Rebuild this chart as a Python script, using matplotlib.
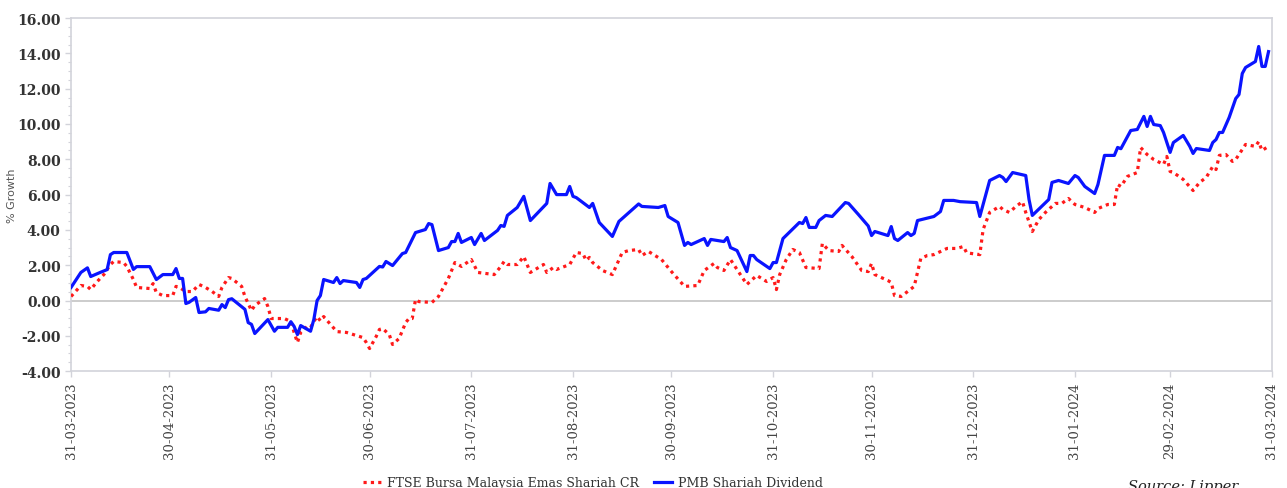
import matplotlib
matplotlib.use("Agg")
import matplotlib.pyplot as plt
import numpy as np
from matplotlib.ticker import MultipleLocator, FormatStrFormatter

# day offsets counted from 31-03-2023, % growth
start = np.datetime64("2023-03-31")

blue_days = [0, 3, 5, 6, 9, 11, 12, 13, 17, 19, 20, 24, 26, 28, 31, 32, 33, 34, 35, 36,
             38, 39, 41, 42, 45, 46, 47, 48, 49, 53, 54, 55, 56, 60, 62, 63, 66, 67, 68, 69,
             70, 73, 74, 75, 76, 77, 79, 80, 81, 82, 83, 87, 88, 89, 90, 94, 95, 96, 98, 101,
             102, 105, 108, 109, 110, 112, 115, 116, 117, 118, 119, 122, 123, 125, 126, 130, 131, 132, 133, 136,
             138, 140, 145, 146, 148, 151, 152, 153, 154, 158, 159, 161, 165, 167, 173, 174, 179, 181, 182, 185,
             187, 188, 189, 193, 194, 195, 199, 200, 201, 203, 206, 207, 208, 209, 213, 214, 215, 217, 222, 223,
             224, 225, 227, 228, 230, 232, 236, 237, 240, 243, 244, 245, 249, 250, 251, 252, 255, 256, 257, 258,
             263, 265, 266, 269, 271, 276, 277, 280, 283, 284, 285, 287, 291, 292, 293, 298, 299, 301, 304, 306,
             307, 309, 312, 313, 315, 318, 319, 320, 322, 323, 325, 327, 328, 329, 330, 332, 333, 335, 336, 339,
             341, 342, 343, 347, 348, 349, 350, 351, 353, 355, 356, 357, 358, 361, 362, 363, 364, 365]
blue_vals = [0.74, 1.59, 1.85, 1.36, 1.60, 1.75, 2.60, 2.72, 2.72, 1.76, 1.92, 1.92, 1.19, 1.47, 1.47, 1.81, 1.25, 1.25, -0.17, -0.10,
             0.17, -0.68, -0.64, -0.45, -0.55, -0.23, -0.40, 0.05, 0.10, -0.50, -1.25, -1.35, -1.87, -1.08, -1.74, -1.52, -1.52, -1.20, -1.47, -1.93,
             -1.42, -1.74, -1.08, 0.00, 0.28, 1.19, 1.08, 1.02, 1.30, 0.96, 1.13, 1.02, 0.74, 1.19, 1.25, 1.93, 1.90, 2.21, 1.98, 2.66,
             2.72, 3.85, 4.02, 4.36, 4.30, 2.83, 3.00, 3.34, 3.34, 3.80, 3.29, 3.57, 3.17, 3.80, 3.40, 3.97, 4.25, 4.20, 4.82, 5.27,
             5.90, 4.53, 5.50, 6.63, 6.00, 6.00, 6.46, 5.90, 5.83, 5.27, 5.50, 4.42, 3.63, 4.48, 5.47, 5.33, 5.27, 5.38, 4.76, 4.42,
             3.12, 3.29, 3.17, 3.51, 3.12, 3.46, 3.34, 3.57, 3.00, 2.83, 1.64, 2.55, 2.55, 2.32, 1.81, 2.15, 2.15, 3.51, 4.42, 4.36,
             4.70, 4.14, 4.14, 4.53, 4.82, 4.76, 5.55, 5.50, 4.87, 4.22, 3.68, 3.91, 3.68, 4.19, 3.51, 3.40, 3.85, 3.68, 3.80, 4.53,
             4.76, 5.04, 5.67, 5.67, 5.60, 5.55, 4.76, 6.80, 7.08, 6.97, 6.74, 7.25, 7.08, 5.72, 4.82, 5.72, 6.69, 6.80, 6.63, 7.08,
             6.97, 6.46, 6.06, 6.57, 8.22, 8.22, 8.67, 8.60, 9.29, 9.63, 9.69, 10.43, 9.86, 10.43, 9.97, 9.91, 9.52, 8.39, 8.95, 9.35,
             8.73, 8.33, 8.61, 8.50, 8.95, 9.12, 9.52, 9.52, 10.37, 11.44, 11.67, 12.86, 13.20, 13.54, 14.39, 13.26, 13.26, 14.10]

red_days = [0, 3, 5, 6, 8, 10, 12, 13, 16, 17, 19, 20, 24, 25, 26, 28, 31, 32, 33, 35,
            37, 39, 41, 43, 45, 46, 48, 49, 52, 53, 55, 56, 59, 60, 61, 65, 67, 68, 69, 70,
            72, 73, 74, 75, 76, 77, 81, 84, 89, 90, 91, 93, 94, 95, 97, 98, 100, 102, 103, 104,
            105, 106, 110, 112, 115, 117, 119, 122, 124, 129, 131, 132, 133, 136, 138, 140, 144, 145, 147, 148,
            152, 154, 156, 157, 158, 159, 162, 165, 168, 170, 173, 174, 176, 180, 183, 187, 191, 193, 196, 197,
            199, 201, 203, 206, 207, 209, 212, 214, 215, 216, 218, 220, 222, 224, 228, 229, 231, 234, 235, 238,
            241, 243, 244, 245, 249, 250, 251, 253, 255, 257, 259, 261, 263, 267, 270, 272, 273, 277, 278, 280,
            283, 284, 286, 288, 290, 291, 293, 295, 297, 300, 302, 304, 306, 309, 312, 313, 316, 318, 319, 320,
            322, 325, 326, 328, 330, 333, 334, 335, 336, 339, 342, 344, 346, 348, 349, 350, 352, 354, 355, 358,
            361, 362, 363, 365]
red_vals = [0.23, 0.85, 0.80, 0.62, 1.08, 1.47, 2.04, 2.21, 2.15, 1.93, 1.19, 0.74, 0.68, 0.96, 0.45, 0.28, 0.28, 0.80, 0.74, 0.51,
            0.51, 0.91, 0.74, 0.51, 0.23, 0.74, 1.30, 1.25, 0.80, 0.23, -0.57, -0.28, 0.11, -0.34, -1.02, -1.02, -1.19, -1.81, -2.38, -1.81,
            -1.47, -1.53, -1.19, -0.91, -1.15, -0.91, -1.76, -1.81, -2.10, -2.38, -2.72, -2.04, -1.64, -1.59, -1.93, -2.49, -2.15, -1.25, -1.02, -1.02,
            0.06, -0.06, -0.11, 0.23, 1.25, 2.15, 1.93, 2.32, 1.59, 1.47, 1.93, 2.21, 2.04, 2.04, 2.49, 1.59, 2.04, 1.59, 1.87, 1.76,
            2.04, 2.72, 2.66, 2.27, 2.44, 2.15, 1.70, 1.47, 2.72, 2.83, 2.89, 2.55, 2.78, 2.32, 1.64, 0.80, 0.85, 1.70, 2.10, 1.87,
            1.70, 2.32, 1.76, 0.91, 1.08, 1.42, 1.08, 1.30, 0.62, 1.47, 2.32, 2.89, 2.72, 1.87, 1.81, 3.23, 2.83, 2.78, 3.12, 2.49,
            1.70, 1.64, 2.10, 1.47, 1.13, 1.02, 0.28, 0.23, 0.51, 0.80, 2.38, 2.55, 2.60, 2.95, 2.95, 3.06, 2.70, 2.60, 4.02, 4.99,
            5.33, 5.16, 4.99, 5.33, 5.60, 4.99, 3.91, 4.59, 4.99, 5.50, 5.50, 5.78, 5.44, 5.27, 4.99, 5.21, 5.44, 5.44, 6.57, 6.46,
            7.03, 7.25, 8.67, 8.27, 7.99, 7.71, 8.16, 7.31, 7.25, 6.86, 6.23, 6.69, 6.97, 7.59, 7.42, 8.22, 8.27, 7.88, 7.99, 8.84,
            8.73, 9.00, 8.50, 8.73]

tick_dates = ["2023-03-31", "2023-04-30", "2023-05-31", "2023-06-30", "2023-07-31", "2023-08-31", "2023-09-30",
              "2023-10-31", "2023-11-30", "2023-12-31", "2024-01-31", "2024-02-29", "2024-03-31"]

red_label = "FTSE Bursa Malaysia Emas Shariah CR"
blue_label = "PMB Shariah Dividend"

serif = "DejaVu Serif"
grey = "#d2d3da"

fig = plt.figure(figsize=(12.87, 4.89), dpi=100)
ax = fig.add_axes([0.0552, 0.239, 0.933, 0.722])

blue_x = start + np.array(blue_days).astype("timedelta64[D]")
red_x = start + np.array(red_days).astype("timedelta64[D]")

ax.axhline(0, color="#c8c8c8", lw=1.3, zorder=1)
ax.plot(red_x, red_vals, color="#ff1a1a", lw=2.3, linestyle=(0, (1, 1.3)), label=red_label, zorder=3)
ax.plot(blue_x, blue_vals, color="#0a14ff", lw=2.3, label=blue_label, zorder=4)

ax.set_xlim(np.datetime64("2023-03-31"), np.datetime64("2024-03-31"))
ax.set_ylim(-4, 16)
ax.yaxis.set_major_locator(MultipleLocator(2))
ax.yaxis.set_minor_locator(MultipleLocator(0.5))
ax.yaxis.set_major_formatter(FormatStrFormatter("%.2f"))

ticks = np.array(tick_dates, dtype="datetime64[D]")
ax.set_xticks(ticks)
ax.set_xticklabels([str(t)[8:10] + "-" + str(t)[5:7] + "-" + str(t)[0:4] for t in ticks],
                   rotation=90, fontsize=9.5, family=serif, color="#444444")

for lab in ax.get_yticklabels():
    lab.set_family(serif)
    lab.set_fontsize(10)
    lab.set_color("#333333")
    lab.set_fontweight("bold")

ax.tick_params(axis="both", which="major", color=grey, length=4, width=1)
ax.tick_params(axis="y", which="minor", color=grey, length=2, width=0.8)
for s in ax.spines.values():
    s.set_color(grey)
    s.set_linewidth(1.2)

ax.set_ylabel("% Growth", fontsize=8, color="#555555")
ax.yaxis.set_label_coords(-0.045, 0.5)

fig.legend(loc="lower center", bbox_to_anchor=(593 / 1287, -0.025), ncol=2, frameon=False,
           prop={"family": serif, "size": 9}, handlelength=1.4, columnspacing=1.2, handletextpad=0.5,
           labelcolor="#333333")

fig.text(1128 / 1287, 1 - 480 / 489, "Source: Lipper", fontsize=10.5, style="italic",
         family=serif, color="#222222", va="top", ha="left")

fig.savefig("out.png", dpi=100)
